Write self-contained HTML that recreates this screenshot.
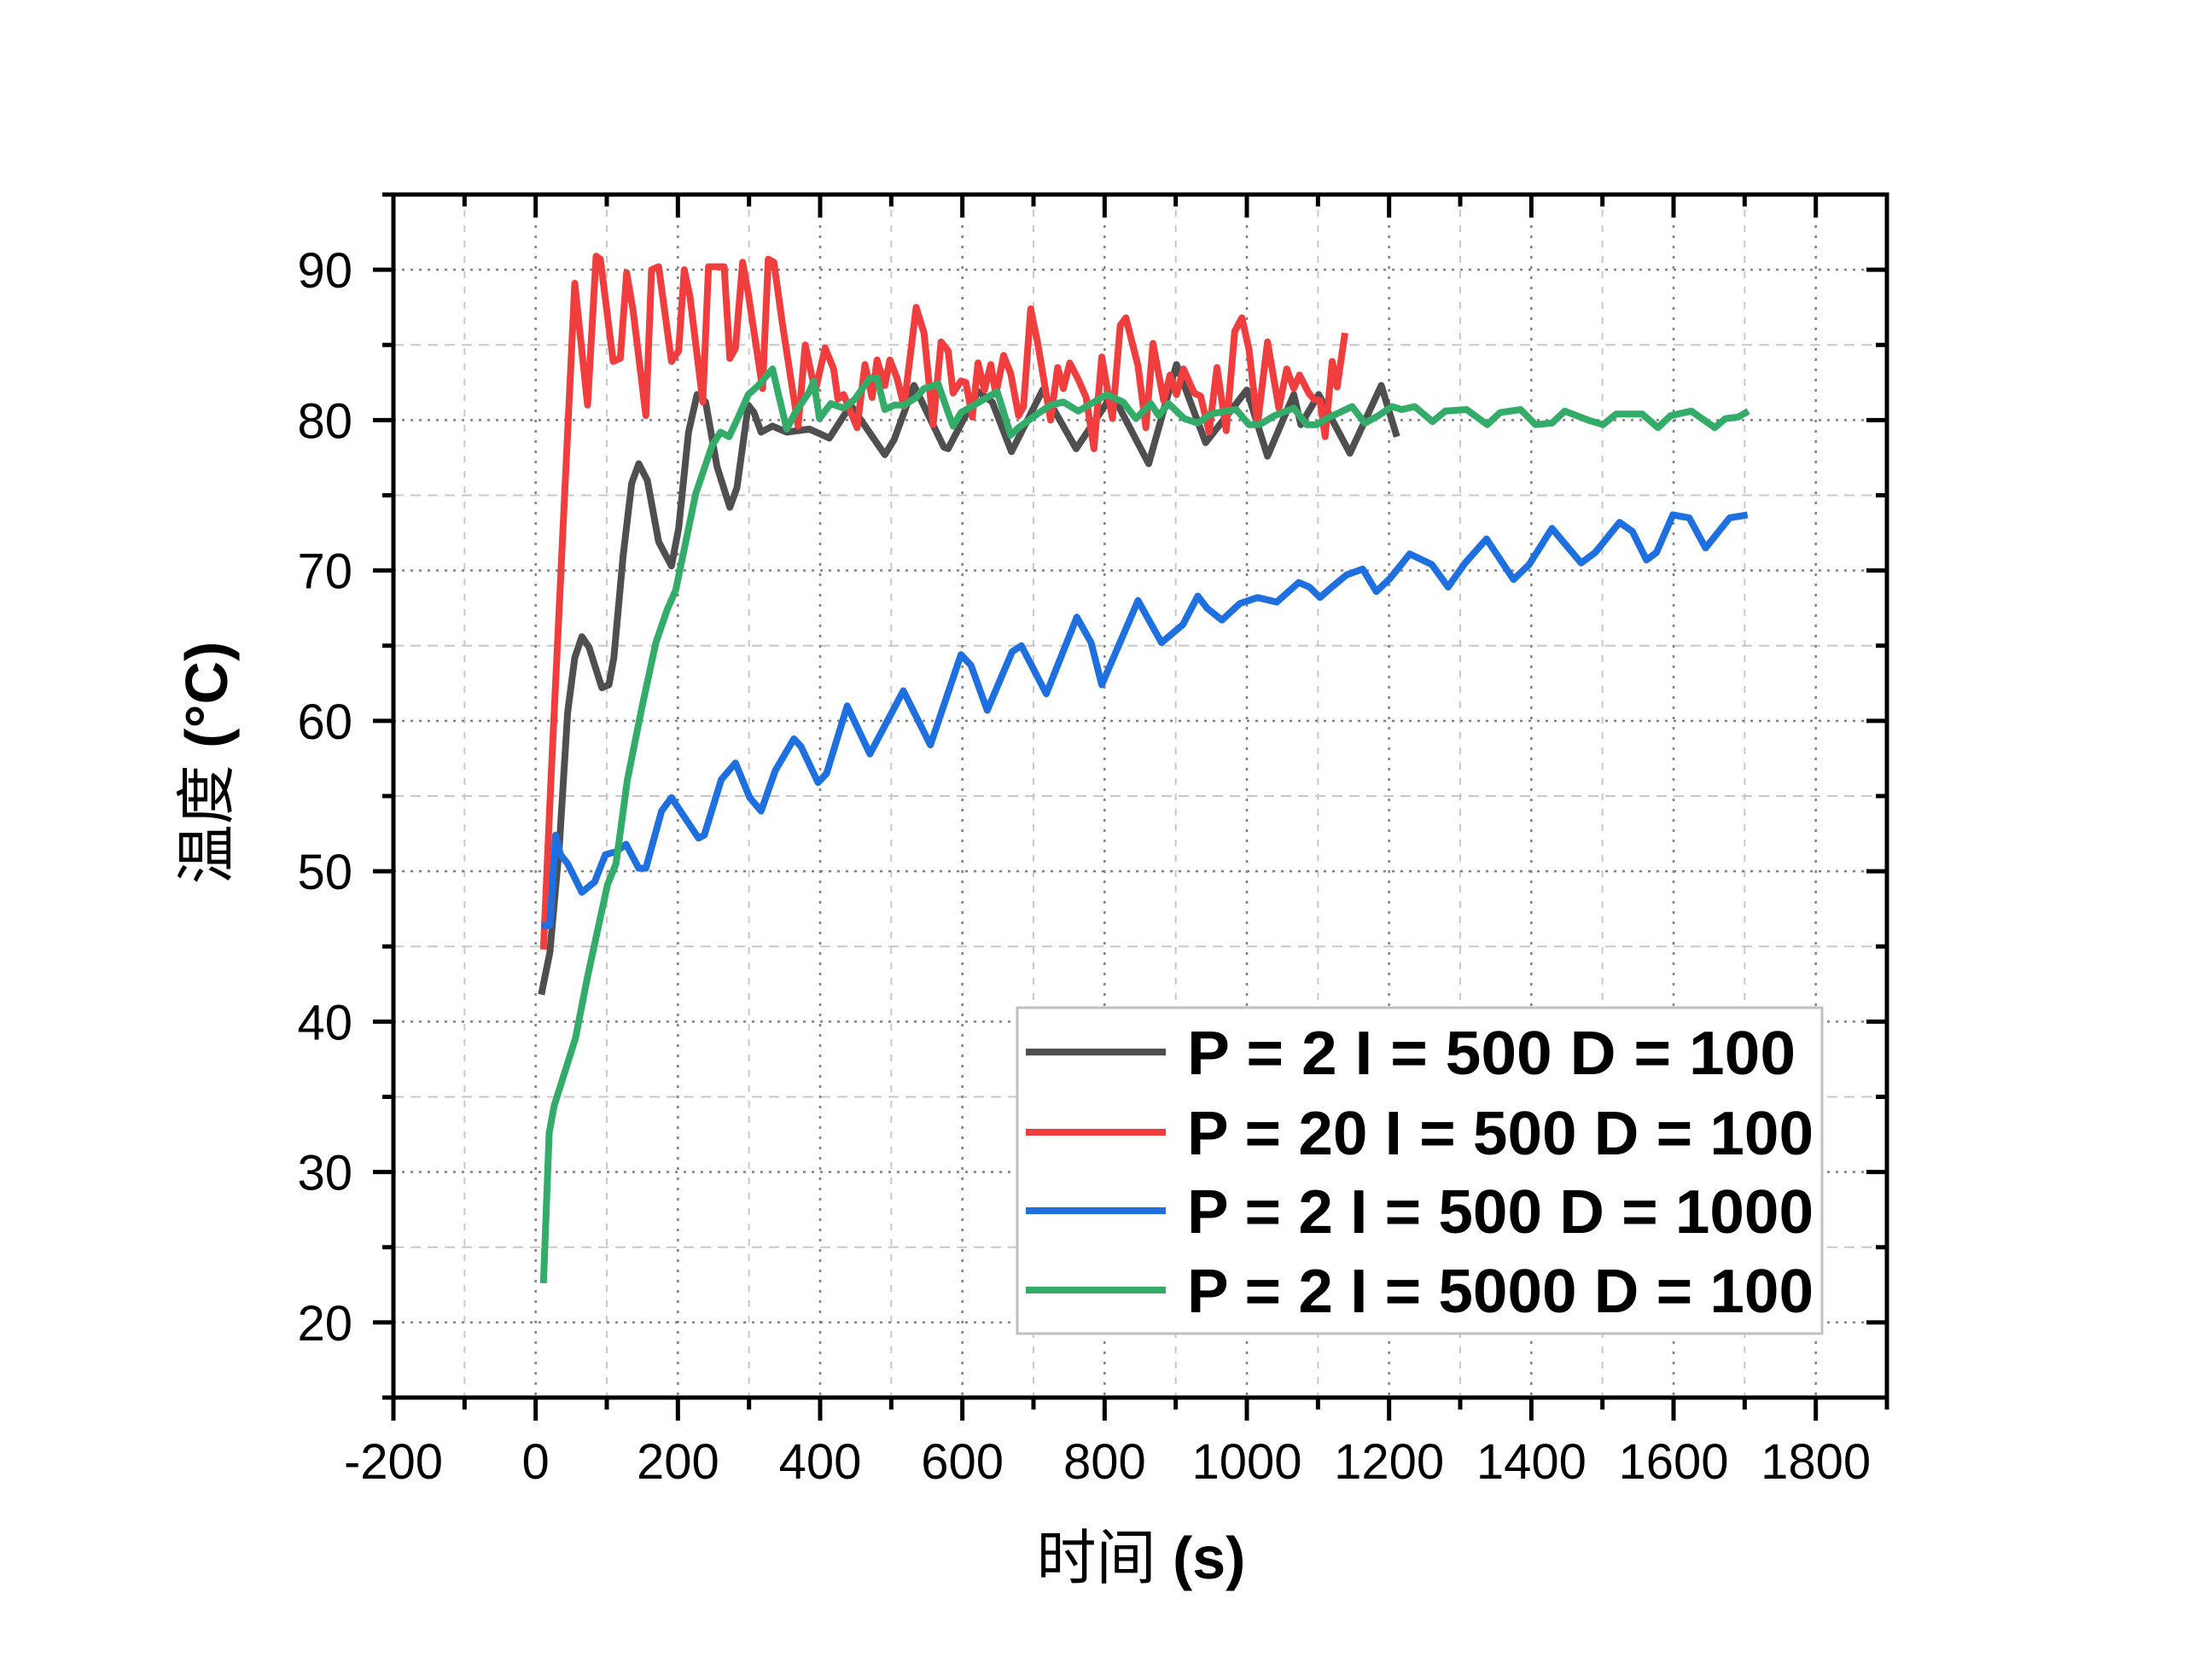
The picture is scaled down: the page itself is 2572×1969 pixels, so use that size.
<!DOCTYPE html>
<html><head><meta charset="utf-8">
<style>
html,body{margin:0;padding:0;background:#fff;}
svg{display:block;font-family:"Liberation Sans","Noto Sans CJK SC",sans-serif;}
</style></head>
<body>
<svg id="chart" width="2572" height="1969" viewBox="0 0 2572 1969">
<rect x="0" y="0" width="2572" height="1969" fill="#fff"/>
<g id="grid"></g>
<g id="series"></g>
<g id="axes"></g>
<text x="1337" y="1850" font-size="70" text-anchor="middle">时间 <tspan font-weight="bold">(s)</tspan></text>
<text transform="translate(266,894) rotate(-90)" font-size="70" text-anchor="middle">温度 <tspan font-weight="bold">(°C)</tspan></text>
<g id="legend">
<rect x="1192" y="1181" width="943" height="382" fill="#fff" stroke="#c0c0c0" stroke-width="3"/>
</g>
</svg>
<script>
const xTicks = [-200,0,200,400,600,800,1000,1200,1400,1600,1800];
const yTicks = [20,30,40,50,60,70,80,90];
const seriesNames = ["P = 2  I = 500 D = 100","P = 20 I = 500 D = 100","P = 2 I = 500 D = 1000","P = 2 I = 5000 D = 100"];
const blackData = [[8,41.8],[20,44.6],[33,51.5],[45,60.6],[55,64.2],[65,65.6],[75,64.9],[93,62.2],[103,62.4],[110,64.2],[123,71],[135,75.8],[145,77.1],[157,76],[173,71.9],[191,70.3],[201,72.8],[215,79.2],[227,81.7],[239,81.2],[255,76.9],[273,74.2],[283,75.5],[299,81],[307,80.5],[317,79.2],[333,79.6],[353,79.2],[385,79.4],[413,78.8],[443,81],[491,77.7],[504,78.7],[532,82.3],[574,78.2],[580,78.1],[622,81.9],[642,81.2],[669,77.9],[713,82],[760,78.1],[811,81.7],[862,77.1],[901,83.7],[942,78.5],[1000,82],[1029,77.6],[1066,81.7],[1076,79.7],[1101,81.7],[1145,77.8],[1189,82.3],[1211,78.9]];
const redData = [[11,44.8],[21,55.6],[55,89.1],[73,81],[85,90.9],[91,90.7],[109,83.9],[119,84.1],[128,89.8],[137,87.3],[155,80.3],[163,90],[173,90.2],[191,83.9],[201,84.6],[209,90],[217,88.2],[235,81.2],[243,90.2],[265,90.2],[273,84.1],[281,84.8],[291,90.5],[299,88.4],[319,82.1],[327,90.7],[335,90.5],[347,86.4],[369,79.6],[379,85],[393,81.9],[407,84.8],[419,83.4],[425,81.4],[433,81.7],[452,79.5],[463,83.7],[473,81.5],[480,84],[491,82.3],[498,84],[508,82.8],[518,80.9],[535,87.5],[546,85.8],[559,79.7],[570,85.2],[580,84.6],[587,81.8],[598,82.6],[605,82.5],[614,80.2],[622,83.8],[631,82],[640,83.7],[647,81.7],[658,84.3],[668,83.1],[679,80.3],[686,80.9],[696,87.4],[706,85.1],[724,80],[734,83.5],[742,82.1],[751,83.8],[763,82.7],[774,81.5],[785,78.1],[796,84.2],[811,80.1],[822,86.3],[830,86.8],[847,83.6],[858,79.5],[868,85.1],[883,81.3],[892,83],[901,81.7],[911,83.4],[926,81.8],[935,81.6],[947,79.2],[958,83.5],[971,79.3],[983,85.9],[993,86.8],[1003,84.7],[1015,79.7],[1029,85.2],[1045,80.8],[1056,83.4],[1066,82.1],[1074,83],[1087,81.8],[1094,81.4],[1103,81.3],[1110,78.9],[1120,83.9],[1127,82.2],[1138,85.8]];
const blueData = [[8,46.4],[20,46.4],[28,52.4],[35,51.1],[45,50.5],[65,48.6],[83,49.3],[98,51.1],[113,51.3],[127,51.8],[145,50.2],[155,50.2],[177,54],[191,54.9],[229,52.2],[237,52.4],[261,56.1],[281,57.2],[301,54.9],[317,54],[337,56.7],[363,58.8],[373,58.3],[397,55.9],[409,56.5],[438,61],[470,57.8],[517,62],[555,58.4],[598,64.4],[612,63.7],[635,60.7],[670,64.6],[683,65],[718,61.8],[761,66.9],[781,65.2],[796,62.4],[847,68],[880,65.2],[910,66.4],[931,68.3],[944,67.5],[965,66.7],[990,67.8],[1015,68.2],[1042,67.9],[1073,69.2],[1088,68.9],[1103,68.2],[1117,68.8],[1140,69.7],[1163,70.1],[1182,68.6],[1202,69.5],[1229,71.1],[1260,70.4],[1283,68.9],[1307,70.5],[1337,72.1],[1375,69.4],[1397,70.4],[1429,72.8],[1470,70.5],[1490,71.2],[1524,73.2],[1542,72.6],[1562,70.7],[1576,71.2],[1599,73.7],[1622,73.5],[1645,71.5],[1679,73.5],[1704,73.7]];
const greenData = [[11,22.6],[19,32.6],[26,34.4],[56,38.9],[73,43],[101,49.1],[113,50.5],[129,56.1],[149,60.8],[169,65.2],[185,67.4],[197,68.7],[225,75.1],[248,78.3],[260,79.2],[272,78.9],[284,80.1],[299,81.7],[313,82.3],[333,83.4],[353,79.4],[365,80.5],[385,81.9],[391,82.6],[399,80.1],[415,81.1],[433,80.8],[449,81.4],[470,82.8],[480,82.8],[491,80.7],[504,81],[518,81],[535,81.5],[546,82.1],[566,82.4],[580,80.5],[587,79.6],[598,80.5],[649,81.9],[668,79],[679,79.5],[702,80.3],[724,81],[742,81.2],[763,80.6],[785,81.2],[803,81.7],[826,81.2],[844,80.1],[865,81.1],[876,80.3],[890,81.1],[912,80.1],[931,79.8],[949,80.4],[971,80.6],[985,80.7],[1003,79.7],[1018,79.7],[1039,80.3],[1066,80.8],[1084,79.7],[1098,79.7],[1112,80.1],[1130,80.5],[1148,80.9],[1166,79.8],[1185,80.3],[1204,80.9],[1218,80.7],[1236,80.9],[1261,79.9],[1279,80.6],[1309,80.7],[1338,79.7],[1356,80.5],[1385,80.7],[1406,79.7],[1429,79.8],[1447,80.6],[1480,80],[1501,79.7],[1519,80.4],[1556,80.4],[1578,79.5],[1596,80.3],[1625,80.6],[1658,79.5],[1673,80.1],[1691,80.2],[1705,80.6]];

const NS = "http://www.w3.org/2000/svg";
const L = 461, R = 2211, T = 228, B = 1638;
const xMin = -200, xMax = 1900, yMin = 15, yMax = 95;
function sx(v){ return L + (v - xMin) / (xMax - xMin) * (R - L); }
function sy(v){ return B - (v - yMin) / (yMax - yMin) * (B - T); }
function mk(tag, parent){ const e = document.createElementNS(NS, tag); parent.appendChild(e); return e; }
const grid = document.getElementById('grid');
const axes = document.getElementById('axes');
const seriesG = document.getElementById('series');
const legend = document.getElementById('legend');

for (let v = -100; v < xMax; v += 200) {
  const l = mk('line', grid);
  
  
  l.setAttribute('x1', sx(v)); l.setAttribute('x2', sx(v)); l.setAttribute('y1', T); l.setAttribute('y2', B);
  l.setAttribute('stroke', '#c8c8c8'); l.setAttribute('stroke-width', '2'); l.setAttribute('stroke-dasharray', '8 10');
}
for (let v = 25; v < yMax; v += 10) {
  const l = mk('line', grid);
  
  
  l.setAttribute('x1', L); l.setAttribute('x2', R); l.setAttribute('y1', sy(v)); l.setAttribute('y2', sy(v));
  l.setAttribute('stroke', '#c8c8c8'); l.setAttribute('stroke-width', '2'); l.setAttribute('stroke-dasharray', '12 8');
}
xTicks.forEach(v => {
  if (v <= xMin) return;
  const l = mk('line', grid);
  
  
  l.setAttribute('x1', sx(v)); l.setAttribute('x2', sx(v)); l.setAttribute('y1', T); l.setAttribute('y2', B);
  l.setAttribute('stroke', '#808080'); l.setAttribute('stroke-width', '2.5'); l.setAttribute('stroke-dasharray', '3 9');
});
yTicks.forEach(v => {
  const l = mk('line', grid);
  
  
  l.setAttribute('x1', L); l.setAttribute('x2', R); l.setAttribute('y1', sy(v)); l.setAttribute('y2', sy(v));
  l.setAttribute('stroke', '#808080'); l.setAttribute('stroke-width', '2.5'); l.setAttribute('stroke-dasharray', '3 7');
});

const colors = ['#4f4f4f', '#f03d3d', '#1e6fe0', '#33ac6a'];
const datas = [blackData, redData, blueData, greenData];
const sNames = ['series-p2-i500-d100', 'series-p20-i500-d100', 'series-p2-i500-d1000', 'series-p2-i5000-d100'];
datas.forEach((d, i) => {
  const p = mk('polyline', seriesG);
  
  
  p.setAttribute('points', d.map(q => sx(q[0]).toFixed(1) + ',' + sy(q[1]).toFixed(1)).join(' '));
  p.setAttribute('fill', 'none'); p.setAttribute('stroke', colors[i]); p.setAttribute('stroke-width', '8');
  p.setAttribute('stroke-linejoin', 'round');
});

const frame = mk('rect', axes);


frame.setAttribute('x', L); frame.setAttribute('y', T); frame.setAttribute('width', R - L); frame.setAttribute('height', B - T);
frame.setAttribute('fill', 'none'); frame.setAttribute('stroke', '#000'); frame.setAttribute('stroke-width', '5');

function tick(x1, y1, x2, y2, name) {
  const l = mk('line', axes);
  
  
  l.setAttribute('x1', x1); l.setAttribute('y1', y1); l.setAttribute('x2', x2); l.setAttribute('y2', y2);
  l.setAttribute('stroke', '#000'); l.setAttribute('stroke-width', '5');
}
for (let v = -200; v <= xMax; v += 100) {
  const major = (v % 200 === 0);
  const len = major ? 27 : 14;
  tick(sx(v), B, sx(v), B + len, 'x-tick');
  tick(sx(v), T, sx(v), T + len, 'x-top-tick');
}
for (let v = 15; v <= yMax; v += 5) {
  const major = (v % 10 === 0);
  const len = major ? 24 : 13;
  tick(L, sy(v), L - len, sy(v), 'y-tick');
  tick(R, sy(v), R - len, sy(v), 'y-right-tick');
}
xTicks.forEach(v => {
  const t = mk('text', axes);
  
  
  t.setAttribute('x', sx(v)); t.setAttribute('y', 1733);
  t.setAttribute('font-size', '58'); t.setAttribute('text-anchor', 'middle');
  t.textContent = String(v);
});
yTicks.forEach(v => {
  const t = mk('text', axes);
  
  
  t.setAttribute('x', 413); t.setAttribute('y', sy(v) + 21);
  t.setAttribute('font-size', '58'); t.setAttribute('text-anchor', 'end');
  t.textContent = String(v);
});

const legY = [1233, 1327, 1419, 1512];
const legEnd = [2104, 2125, 2125, 2125];
seriesNames.forEach((n, i) => {
  const l = mk('line', legend);
  
  
  l.setAttribute('x1', 1202); l.setAttribute('x2', 1366); l.setAttribute('y1', legY[i]); l.setAttribute('y2', legY[i]);
  l.setAttribute('stroke', colors[i]); l.setAttribute('stroke-width', '8');
  const t = mk('text', legend);
  
  
  t.setAttribute('x', 1391); t.setAttribute('y', legY[i] + 26);
  t.setAttribute('font-size', '72'); t.setAttribute('font-weight', 'bold');
  t.setAttribute('textLength', legEnd[i] - 1391); t.setAttribute('lengthAdjust', 'spacingAndGlyphs');
  t.setAttribute('xml:space', 'preserve');
  t.textContent = n;
});
</script>
</body></html>
